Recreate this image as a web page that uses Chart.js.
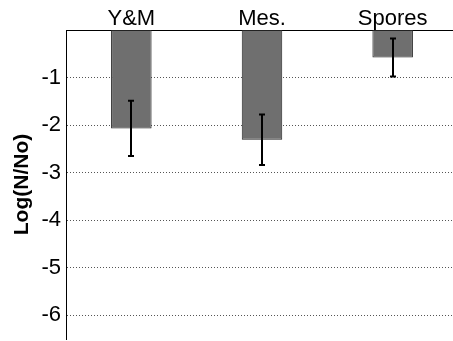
<!DOCTYPE html>
<html>
<head>
<meta charset="utf-8">
<script src="https://cdn.jsdelivr.net/npm/chart.js@4/dist/chart.umd.min.js"></script>
<style>
  html, body { margin: 0; padding: 0; background: #fff; overflow: hidden; }
  canvas { display: block; }
</style>
</head>
<body>
<canvas id="chartCanvas" width="458" height="341"></canvas>
<script>
    var categories = ["Y&M", "Mes.", "Spores"];
    var logValues = [-2.07, -2.31, -0.58];
    var errValues = [0.58, 0.53, 0.40];
    var yTicks = [-1, -2, -3, -4, -5, -6];

    var fontFamily = "'Liberation Sans', Arial, sans-serif";

    // error bars drawn through the y scale
    var errorBars = {
        id: 'errorBars',
        afterDatasetsDraw: function(chart) {
            var ctx = chart.ctx;
            var yScale = chart.scales.y;
            var meta = chart.getDatasetMeta(0);
            ctx.save();
            ctx.strokeStyle = '#000';
            ctx.lineWidth = 2;
            meta.data.forEach(function(bar, i) {
                var top = yScale.getPixelForValue(logValues[i] + errValues[i]);
                var bottom = yScale.getPixelForValue(logValues[i] - errValues[i]);
                var x = Math.round(bar.x);
                ctx.beginPath();
                ctx.moveTo(x, top);
                ctx.lineTo(x, bottom);
                ctx.moveTo(x - 3, top);
                ctx.lineTo(x + 3, top);
                ctx.moveTo(x - 3, bottom);
                ctx.lineTo(x + 3, bottom);
                ctx.stroke();
            });
            ctx.restore();
        }
    };

    var chartData = {
        labels: categories,
        datasets: [{
            data: logValues,
            backgroundColor: '#6f6f6f',
            borderColor: '#222',
            borderWidth: 1,
            borderSkipped: false,
            barPercentage: 0.31,
            categoryPercentage: 1
        }]
    };

    var chartOptions = {
        responsive: false,
        animation: false,
        layout: { padding: { top: 0, right: 0, bottom: 2, left: 0 } },
        plugins: { legend: { display: false }, tooltip: { enabled: false } },
        scales: {
            x: {
                position: 'top',
                grid: { display: false, drawTicks: false },
                border: { display: true, color: '#000', width: 1 },
                ticks: {
                    color: '#000',
                    padding: -2,
                    maxRotation: 0,
                    font: { family: fontFamily, size: 22 }
                },
                afterFit: function(scale) { scale.height = 30; }
            },
            y: {
                min: -6.5,
                max: 0,
                afterBuildTicks: function(scale) {
                    scale.ticks = yTicks.slice().reverse().map(function(v) { return { value: v }; });
                },
                grid: {
                    drawTicks: false,
                    color: '#555',
                    lineWidth: 1
                },
                border: { display: true, color: '#000', width: 1, dash: [1, 2] },
                ticks: {
                    color: '#000',
                    padding: 5,
                    font: { family: fontFamily, size: 22 }
                },
                title: {
                    display: true,
                    text: 'Log(N/No)',
                    color: '#000',
                    padding: { top: 10, bottom: 0 },
                    font: { family: fontFamily, size: 21, weight: 'bold' }
                },
                afterFit: function(scale) {
                    scale.width = 66;
                    scale.paddingTop = 0;
                    scale.paddingBottom = 0;
                }
            }
        }
    };

    var ctx = document.getElementById("chartCanvas").getContext("2d");
    window.myBar = new Chart(ctx, {
        type: 'bar',
        data: chartData,
        options: chartOptions,
        plugins: [errorBars]
    });
</script>
</body>
</html>
